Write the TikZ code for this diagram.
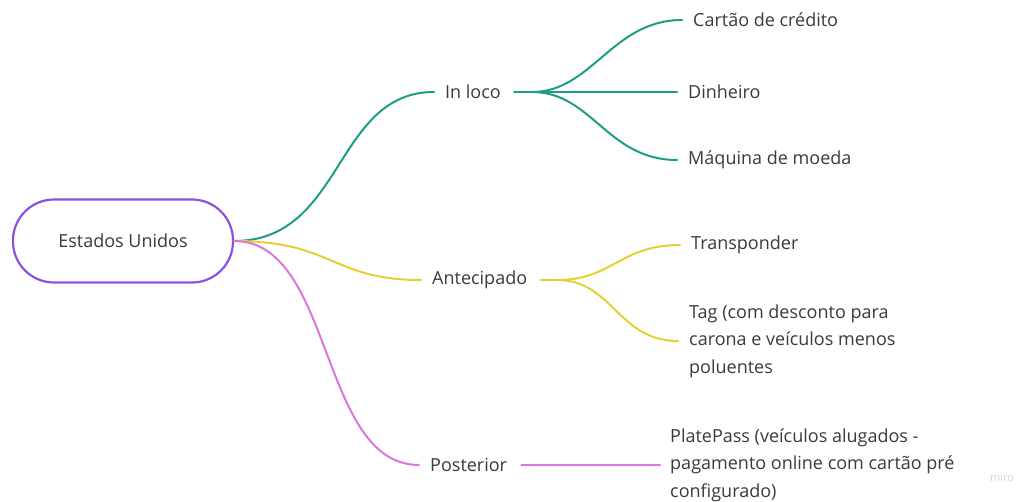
\documentclass[tikz,border=0pt]{standalone}
\usepackage{fontspec}
\setmainfont{Open Sans}
\usepackage{xcolor}
\usetikzlibrary{calc, positioning}

\definecolor{roxo}{HTML}{8B52DE}
\definecolor{verde}{HTML}{1E9C84}
\definecolor{amarelo}{HTML}{E6D034}
\definecolor{rosa}{HTML}{DC76DC}
\definecolor{texto}{HTML}{3A3A3A}

\begin{document}
\begin{tikzpicture}[x = 1pt, y = -1pt,
		txt/.style = {text = texto, font = \fontsize{18}{27.5}\selectfont, inner sep = 0pt, anchor = west, align = left},
		ramo/.style = {line width = 2pt, line cap = round}]
		\useasboundingbox (0,0) rectangle (1027,502);
		\def\g{11};
		
		\node [txt, anchor = center, draw = roxo, line width = 2.2pt, rounded corners = 41pt, minimum width = 220pt, minimum height = 83pt] (EU) at (123,241) {Estados Unidos};
		
		\node [txt] (inloco) at (445,92) {In loco};
		\node [txt] (antec) at (432,280) {Antecipado};
		\node [txt] (post) at (430,465) {Posterior};
		
		\node [txt] (cartao) at (693,20) {Cartão de crédito};
		\node [txt] (dinheiro) at (688,92) {Dinheiro};
		\node [txt] (maquina) at (688,160) {Máquina de moeda};
		\node [txt] (transp) at (691,245) {Transponder};
		\node [txt] (tag) at (689,341) {Tag (com desconto para\\carona e veículos menos\\poluentes};
		\node [txt] (plate) at (670,465) {PlatePass (veículos alugados -\\pagamento online com cartão pré\\configurado)};
		
		\node [text = gray!35, font = \fontsize{11}{13}\selectfont] (miro) at (1002,478) {miro};
		
		\coordinate (hubA) at ([xshift = 31pt]inloco.east);
		\coordinate (hubB) at ([xshift = 30pt]antec.east);
		
		\begin{scope}[ramo, verde]
			\draw (EU.east) .. controls +(110,0) and +(-100,0) .. ([xshift = -\g pt]inloco.west);
			\draw ([xshift = 13pt]inloco.east) -- (hubA);
			\draw (hubA) .. controls +(60,0) and +(-70,0) .. ([xshift = -\g pt]cartao.west);
			\draw (hubA) -- ([xshift = -\g pt]dinheiro.west);
			\draw (hubA) .. controls +(60,0) and +(-70,0) .. ([xshift = -\g pt]maquina.west);
		\end{scope}
		
		\begin{scope}[ramo, amarelo]
			\draw (EU.east) .. controls +(100,0) and +(-90,0) .. ([xshift = -\g pt]antec.west);
			\draw ([xshift = 13pt]antec.east) -- (hubB);
			\draw (hubB) .. controls +(55,0) and +(-60,0) .. ([xshift = -\g pt]transp.west);
			\draw (hubB) .. controls +(55,0) and +(-60,0) .. ([xshift = -\g pt]tag.west);
		\end{scope}
		
		\begin{scope}[ramo, rosa]
			\draw (EU.east) .. controls +(100,0) and +(-100,0) .. ([xshift = -\g pt]post.west);
			\draw ([xshift = 14pt]post.east) -- ([xshift = -10pt]plate.west);
		\end{scope}
	\end{tikzpicture}
\end{document}
